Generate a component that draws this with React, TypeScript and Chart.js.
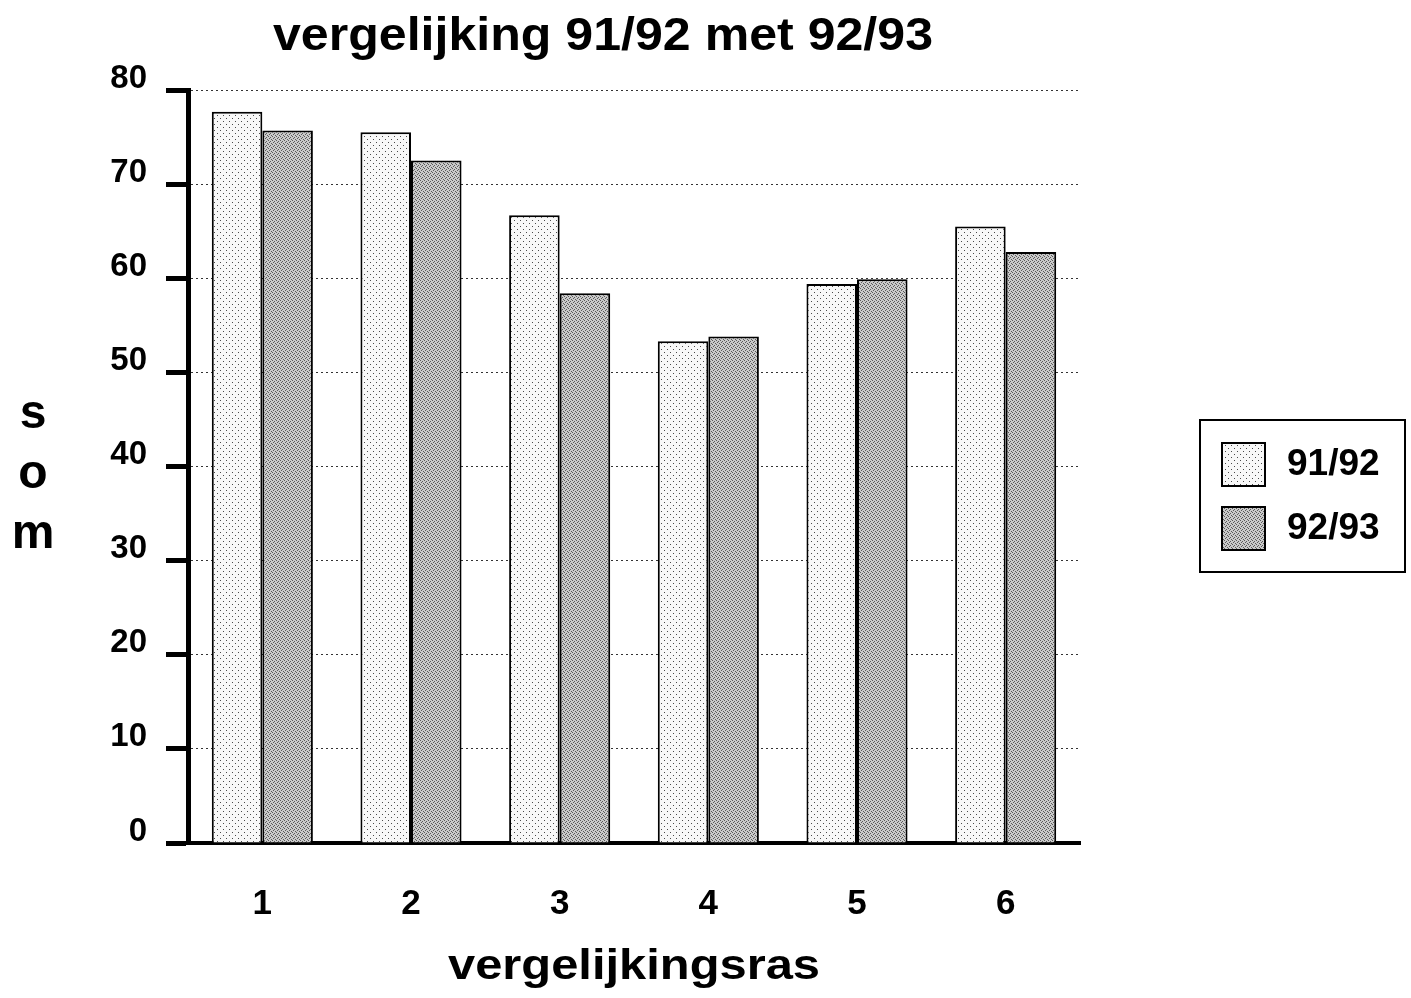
import React, { useEffect, useRef } from "react";
import { Chart, registerables } from "chart.js";

Chart.register(...registerables);

const chartTitle = "vergelijking 91/92 met 92/93";
const xTitle = "vergelijkingsras";
const yTitleLetters = ["s", "o", "m"];
const categories = ["1", "2", "3", "4", "5", "6"];
const seriesLabels = ["91/92", "92/93"];
const values9192 = [77.7, 75.5, 66.7, 53.3, 59.4, 65.5];
const values9293 = [75.7, 72.5, 58.4, 53.8, 59.9, 62.8];
const yMin = 0;
const yMax = 80;
const yStep = 10;

const FONT = '"Liberation Sans", Arial, Helvetica, sans-serif';

function makePattern(kind: "light" | "dark"): CanvasPattern | string {
  const c = document.createElement("canvas");
  const ctx = c.getContext("2d");
  if (!ctx) return kind === "light" ? "#f2f2f2" : "#a8a8a8";
  if (kind === "light") {
    c.width = 6;
    c.height = 6;
    ctx.fillStyle = "#f8f8f8";
    ctx.fillRect(0, 0, 6, 6);
    ctx.fillStyle = "#4a4a4a";
    ctx.fillRect(1, 1, 1, 1);
    ctx.fillRect(4, 4, 1, 1);
  } else {
    c.width = 4;
    c.height = 4;
    ctx.fillStyle = "#cacaca";
    ctx.fillRect(0, 0, 4, 4);
    ctx.fillStyle = "#5a5a5a";
    ctx.fillRect(0, 0, 1, 1);
    ctx.fillRect(2, 1, 1, 1);
    ctx.fillRect(1, 2, 1, 1);
    ctx.fillRect(3, 3, 1, 1);
  }
  const p = ctx.createPattern(c, "repeat");
  return p || (kind === "light" ? "#f2f2f2" : "#a8a8a8");
}

export default function App() {
  const ref = useRef<HTMLCanvasElement | null>(null);

  useEffect(() => {
    if (!ref.current) return;
    const fills = [makePattern("light"), makePattern("dark")];

    const decor = {
      id: "decor",
      afterDraw(chart: any) {
        const ctx = chart.ctx as CanvasRenderingContext2D;
        const area = chart.chartArea;
        ctx.save();
        ctx.fillStyle = "#000";

        // main title
        ctx.font = `bold 46px ${FONT}`;
        ctx.textAlign = "center";
        ctx.textBaseline = "alphabetic";
        const tw = ctx.measureText(chartTitle).width;
        ctx.save();
        ctx.translate(603, 50);
        ctx.scale(660 / tw, 1);
        ctx.fillText(chartTitle, 0, 0);
        ctx.restore();

        // x axis title
        ctx.font = `bold 43px ${FONT}`;
        const xw = ctx.measureText(xTitle).width;
        ctx.save();
        ctx.translate((area.left + area.right) / 2, 979);
        ctx.scale(372 / xw, 1);
        ctx.fillText(xTitle, 0, 0);
        ctx.restore();

        // y axis title, stacked letters
        ctx.font = `bold 48px ${FONT}`;
        yTitleLetters.forEach((ch, i) => {
          ctx.fillText(ch, 33, 428 + i * 60);
        });

        // legend
        ctx.lineWidth = 2;
        ctx.strokeStyle = "#000";
        ctx.strokeRect(1200, 420, 205, 152);
        ctx.font = `bold 37px ${FONT}`;
        ctx.textAlign = "left";
        ctx.textBaseline = "middle";
        chart.data.datasets.forEach((ds: any, i: number) => {
          const top = 443 + i * 64;
          ctx.fillStyle = ds.backgroundColor;
          ctx.fillRect(1222, top, 43, 43);
          ctx.strokeRect(1222, top, 43, 43);
          ctx.fillStyle = "#000";
          ctx.fillText(ds.label, 1287, top + 22);
        });
        ctx.restore();
      },
    };

    const chart = new Chart(ref.current, {
      type: "bar",
      data: {
        labels: categories,
        datasets: [
          {
            label: seriesLabels[0],
            data: values9192,
            backgroundColor: fills[0] as any,
            borderColor: "#000",
            borderWidth: 2,
            categoryPercentage: 0.68,
            barPercentage: 1.0,
          },
          {
            label: seriesLabels[1],
            data: values9293,
            backgroundColor: fills[1] as any,
            borderColor: "#000",
            borderWidth: 2,
            categoryPercentage: 0.68,
            barPercentage: 1.0,
          },
        ],
      },
      options: {
        animation: false,
        responsive: true,
        maintainAspectRatio: false,
        layout: { padding: { left: 0, right: 331, top: 90, bottom: 0 } },
        plugins: {
          legend: { display: false },
          title: { display: false },
          tooltip: { enabled: false },
        },
        scales: {
          x: {
            afterFit: (s: any) => {
              s.height = 155;
            },
            grid: { display: true, drawOnChartArea: false, drawTicks: false },
            border: { display: true, width: 4, color: "#000" },
            ticks: {
              color: "#000",
              padding: 40,
              font: { family: FONT, size: 35, weight: "bold" },
            },
          },
          y: {
            min: yMin,
            max: yMax,
            afterFit: (s: any) => {
              s.width = 188;
            },
            grid: {
              color: "#333",
              lineWidth: 1,
              tickLength: 22,
              tickWidth: 5,
              tickColor: "#000",
            },
            border: { display: true, width: 5, color: "#000", dash: [2, 3] },
            ticks: {
              stepSize: yStep,
              color: "#000",
              padding: 19,
              font: { family: FONT, size: 33, weight: "bold", lineHeight: 0.7 },
              callback: (v: any) => [String(v), ""],
            },
          },
        },
      },
      plugins: [decor],
    });
    return () => chart.destroy();
  }, []);

  return (
    <div style={{ position: "absolute", left: 0, top: 0, width: 1411, height: 998 }}>
      <canvas ref={ref} />
    </div>
  );
}
